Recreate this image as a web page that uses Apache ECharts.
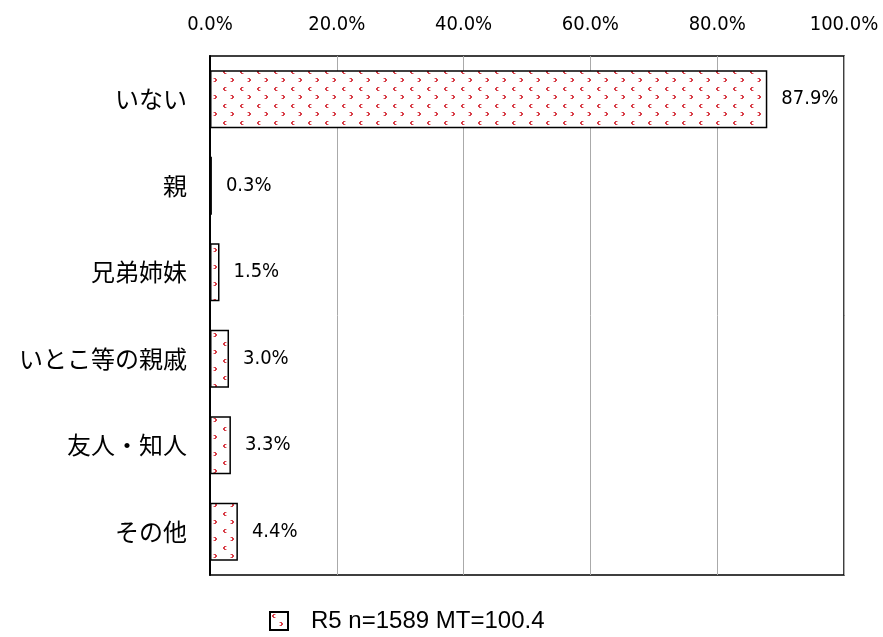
<!DOCTYPE html>
<html><head><meta charset="utf-8">
<script src="https://cdn.jsdelivr.net/npm/echarts@6/dist/echarts.min.js"></script>
<style>html,body{margin:0;padding:0;background:#fff}#c{width:883px;height:637px}</style>
</head><body><div id="c"></div>
<script>
const categories = ['いない','親','兄弟姉妹','いとこ等の親戚','友人・知人','その他'];
const values = [87.9, 0.3, 1.5, 3.0, 3.3, 4.4];
const seriesName = 'R5 n=1589 MT=100.4';
const tickMin = 0, tickMax = 100, tickStep = 20;
const narrow = '"DejaVu Sans Condensed", "Liberation Sans", sans-serif';

function makePattern(){
  const c = document.createElement('canvas');
  c.width = 17; c.height = 17;
  const g = c.getContext('2d');
  g.fillStyle = '#fff'; g.fillRect(0,0,17,17);
  g.fillStyle = '#d8404a';
  // "c" mark
  g.fillRect(3,2,2,1); g.fillRect(2,3,2,2); g.fillRect(3,5,2,1);
  // ">" mark
  g.fillRect(10,10,2,1); g.fillRect(11,11,2,2); g.fillRect(10,13,2,1);
  g.fillStyle = '#f0b0b4';
  g.fillRect(5,2,1,1); g.fillRect(5,5,1,1); g.fillRect(9,10,1,1); g.fillRect(9,13,1,1);
  return c;
}
const pat = {image: makePattern(), repeat: 'repeat'};

const chart = echarts.init(document.getElementById('c'));
chart.setOption({
  animation:false,
  backgroundColor:'#fff',
  grid:{left:210, right:39, top:56, bottom:62, show:true, borderColor:'#000', borderWidth:1.5, containLabel:false},
  xAxis:{type:'value', position:'top', min:tickMin, max:tickMax, interval:tickStep,
    axisLabel:{formatter:v=>v.toFixed(1)+'%', fontSize:20, color:'#000', fontFamily:narrow, margin:21},
    axisLine:{show:false}, axisTick:{show:false},
    splitLine:{show:true, lineStyle:{color:'#aaa', width:1}}},
  yAxis:{type:'category', data:categories, inverse:true,
    axisLabel:{fontSize:24, color:'#000', fontFamily:'Noto Sans CJK JP', margin:23},
    axisLine:{show:true, lineStyle:{color:'#000', width:2}}, axisTick:{show:false}},
  legend:{top:604, left:264, itemWidth:18, itemHeight:18, itemGap:10,
    textStyle:{fontSize:24, color:'#000', fontFamily:'Liberation Sans', padding:[0,0,0,18]},
    data:[{name:seriesName, icon:'rect'}]},
  series:[{name:seriesName, type:'bar', data:values, barWidth:'67%',
    itemStyle:{color:pat, borderColor:'#000', borderWidth:1.5},
    label:{show:true, position:'right', distance:14, formatter:p=>p.value.toFixed(1)+'%',
      fontSize:20, color:'#000', fontFamily:narrow}}]
});
</script></body></html>
